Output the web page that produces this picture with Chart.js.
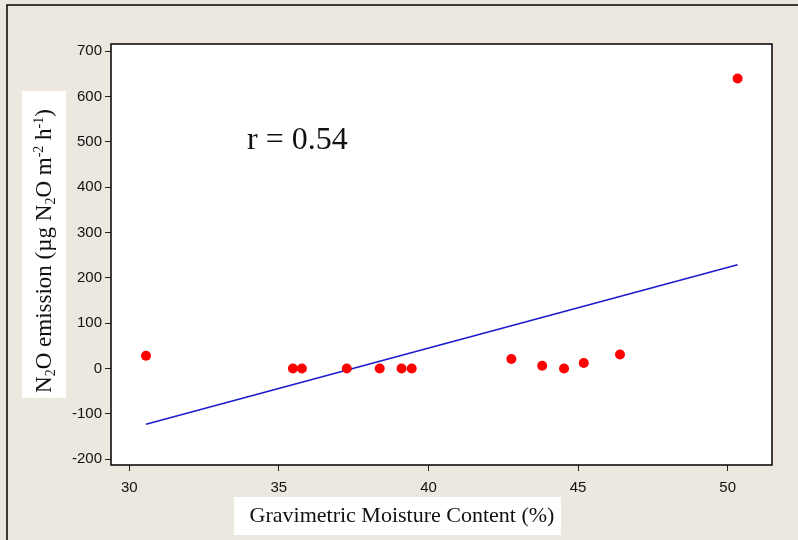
<!DOCTYPE html>
<html>
<head>
<meta charset="utf-8">
<script src="https://cdn.jsdelivr.net/npm/chart.js@4.4.0/dist/chart.umd.min.js"></script>
<style>
  html, body { margin: 0; padding: 0; background: #ece8df; }
  #wrap { width: 798px; height: 540px; position: relative; }
</style>
</head>
<body>
<div id="wrap"><canvas id="c" width="798" height="540"></canvas></div>
<script>
// moisture (%) vs N2O emission
const moisture = [30.56, 35.47, 35.77, 37.27, 38.37, 39.10, 39.44, 42.77, 43.80, 44.53, 45.19, 46.40, 50.33];
const emission = [28, 0, 0, 0, 0, 0, 0, 21, 6, 0, 12, 31, 640];

// fitted line end points
const fitX = [30.56, 50.33];
const fitY = [-123, 229];

const xTicks = [30, 35, 40, 45, 50];
const yTicks = [-200, -100, 0, 100, 200, 300, 400, 500, 600, 700];

const frame = {
  id: 'frame',
  beforeDraw(chart) {
    const ctx = chart.ctx, a = chart.chartArea;
    ctx.save();
    ctx.fillStyle = '#ece8df';
    ctx.fillRect(0, 0, chart.width, chart.height);
    // outer border (left + top visible)
    ctx.strokeStyle = '#000';
    ctx.lineWidth = 1.5;
    ctx.beginPath();
    ctx.moveTo(7, chart.height);
    ctx.lineTo(7, 5);
    ctx.lineTo(chart.width, 5);
    ctx.stroke();
    ctx.fillStyle = '#fff';
    ctx.fillRect(a.left, a.top, a.right - a.left, a.bottom - a.top);
    // title boxes
    ctx.fillRect(22, 91, 44, 307);
    ctx.fillRect(234, 497, 327, 38);
    ctx.restore();
  },
  afterDraw(chart) {
    const ctx = chart.ctx, a = chart.chartArea;
    ctx.save();
    ctx.strokeStyle = '#000';
    ctx.lineWidth = 1.5;
    ctx.strokeRect(a.left, a.top, a.right - a.left, a.bottom - a.top);

    ctx.fillStyle = '#111';
    ctx.textBaseline = 'alphabetic';
    // r label
    ctx.font = '32px "Liberation Serif"';
    ctx.textAlign = 'left';
    ctx.fillText('r = 0.54', 247, 149);

    // x title
    ctx.font = '22px "Liberation Serif"';
    ctx.textAlign = 'center';
    ctx.fillText('Gravimetric Moisture Content (%)', 402, 522);

    // y title, rotated, with sub/superscripts
    const parts = [
      ['N', 0], ['2', 1], ['O emission (\u00b5g N', 0], ['2', 1], ['O m', 0], ['-2', -1], [' h', 0], ['-1', -1], [')', 0]
    ];
    const big = '23px "Liberation Serif"', small = '14px "Liberation Serif"';
    let total = 0;
    parts.forEach(p => { ctx.font = p[1] ? small : big; total += ctx.measureText(p[0]).width; });
    ctx.translate(51, 251);
    ctx.rotate(-Math.PI / 2);
    let x = -total / 2;
    ctx.textAlign = 'left';
    parts.forEach(p => {
      ctx.font = p[1] ? small : big;
      const dy = p[1] === 1 ? 4 : (p[1] === -1 ? -8 : 0);
      ctx.fillText(p[0], x, dy);
      x += ctx.measureText(p[0]).width;
    });
    ctx.restore();
  }
};

new Chart(document.getElementById('c').getContext('2d'), {
  type: 'scatter',
  data: {
    datasets: [
      {
        data: moisture.map((m, i) => ({ x: m, y: emission[i] })),
        backgroundColor: '#ff0000',
        borderColor: '#ff0000',
        pointRadius: 5,
        pointBorderWidth: 0
      },
      {
        type: 'line',
        data: fitX.map((m, i) => ({ x: m, y: fitY[i] })),
        borderColor: '#1a1ad0',
        borderWidth: 1.5,
        pointRadius: 0,
        fill: false
      }
    ]
  },
  options: {
    responsive: false,
    animation: false,
    layout: { padding: { top: 44, right: 26, left: 0, bottom: 0 } },
    plugins: { legend: { display: false }, tooltip: { enabled: false } },
    scales: {
      x: {
        type: 'linear',
        min: 29.39,
        max: 51.48,
        afterBuildTicks: s => { s.ticks = xTicks.map(v => ({ value: v })); },
        afterFit: s => { s.height = 75; },
        grid: { drawOnChartArea: false, drawTicks: true, tickLength: 6, color: '#222', lineWidth: 1 },
        border: { display: false },
        ticks: { color: '#111', font: { family: 'Liberation Sans', size: 15 }, padding: 8, maxRotation: 0 }
      },
      y: {
        min: -213,
        max: 716,
        afterBuildTicks: s => { s.ticks = yTicks.map(v => ({ value: v })); },
        afterFit: s => { s.width = 111; },
        grid: { drawOnChartArea: false, drawTicks: true, tickLength: 6, color: '#222', lineWidth: 1 },
        border: { display: false },
        ticks: { color: '#111', font: { family: 'Liberation Sans', size: 15 }, padding: 3 }
      }
    }
  },
  plugins: [frame]
});
</script>
</body>
</html>
